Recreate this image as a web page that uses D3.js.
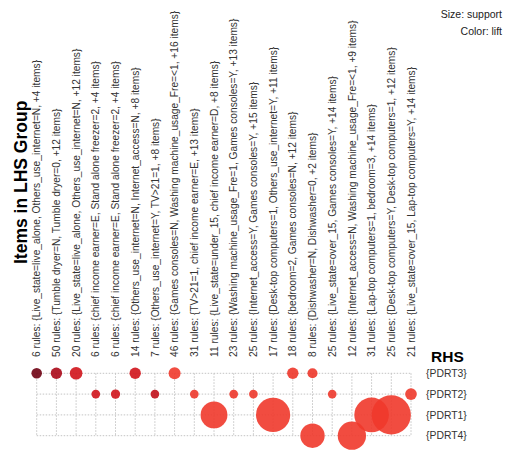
<!DOCTYPE html>
<html>
<head>
<meta charset="utf-8">
<script src="https://cdn.jsdelivr.net/npm/d3@7"></script>
<style>
  html, body { margin: 0; padding: 0; background: #ffffff; }
  svg { display: block; font-family: "Liberation Sans", Arial, sans-serif; }
</style>
</head>
<body>
<svg id="chart" width="523" height="450"></svg>
<script>
// LHS groups (columns), left to right
const lhsGroups = [
  "6 rules: {Live_state=live_alone, Others_use_internet=N, +4 items}",
  "50 rules: {Tumble dryer=N, Tumble dryer=0, +12 items}",
  "20 rules: {Live_state=live_alone, Others_use_internet=N, +12 items}",
  "6 rules: {chief income earner=E, Stand alone freezer=2, +4 items}",
  "6 rules: {chief income earner=E, Stand alone freezer=2, +4 items}",
  "14 rules: {Others_use_internet=N, Internet_access=N, +8 items}",
  "7 rules: {Others_use_internet=Y, TV>21=1, +8 items}",
  "46 rules: {Games consoles=N, Washing machine_usage_Fre=<1, +16 items}",
  "31 rules: {TV>21=1, chief income earner=E, +13 items}",
  "11 rules: {Live_state=under_15, chief income earner=D, +8 items}",
  "23 rules: {Washing machine_usage_Fre=1, Games consoles=Y, +13 items}",
  "25 rules: {Internet_access=Y, Games consoles=Y, +15 items}",
  "17 rules: {Desk-top computers=1, Others_use_internet=Y, +11 items}",
  "18 rules: {bedroom=2, Games consoles=N, +12 items}",
  "8 rules: {Dishwasher=N, Dishwasher=0, +2 items}",
  "25 rules: {Live_state=over_15, Games consoles=Y, +14 items}",
  "12 rules: {Internet_access=N, Washing machine_usage_Fre=<1, +9 items}",
  "31 rules: {Lap-top computers=1, bedroom=3, +14 items}",
  "25 rules: {Desk-top computers=Y, Desk-top computers=1, +12 items}",
  "21 rules: {Live_state=over_15, Lap-top computers=Y, +14 items}"
];

// RHS items (rows), top to bottom
const rhsItems = ["{PDRT3}", "{PDRT2}", "{PDRT1}", "{PDRT4}"];

// One entry per plotted group: LHS column index, RHS item, support, lift
const dotLhs     = [0, 1, 2, 5, 7, 13, 14,
                    3, 4, 6, 8, 10, 11, 15, 19,
                    9, 12, 17, 18,
                    14, 16];
const dotRhs     = ["{PDRT3}", "{PDRT3}", "{PDRT3}", "{PDRT3}", "{PDRT3}", "{PDRT3}", "{PDRT3}",
                    "{PDRT2}", "{PDRT2}", "{PDRT2}", "{PDRT2}", "{PDRT2}", "{PDRT2}", "{PDRT2}", "{PDRT2}",
                    "{PDRT1}", "{PDRT1}", "{PDRT1}", "{PDRT1}",
                    "{PDRT4}", "{PDRT4}"];
const dotSupport = [0.031, 0.036, 0.044, 0.036, 0.040, 0.036, 0.028,
                    0.021, 0.024, 0.021, 0.021, 0.021, 0.021, 0.021, 0.038,
                    0.200, 0.325, 0.333, 0.425,
                    0.165, 0.222];
const dotLift    = [3.00, 2.00, 1.50, 1.50, 1.00, 1.05, 1.05,
                    1.50, 1.50, 1.70, 1.04, 1.04, 1.04, 1.04, 1.03,
                    1.02, 1.02, 1.02, 1.02,
                    1.02, 1.02];

const dots = dotLhs.map((c, i) => ({
  lhs: c, rhs: dotRhs[i], support: dotSupport[i], lift: dotLift[i]
}));

const svg = d3.select("#chart");

const x = d3.scalePoint().domain(d3.range(lhsGroups.length)).range([36.7, 411]);
const y = d3.scalePoint().domain(rhsItems).range([373.3, 435.7]);
const r = d3.scaleSqrt().domain([0, 1]).range([0, 30]);
const color = d3.scaleLinear()
  .domain([1.0, 1.5, 2.0, 3.0])
  .range(["#f03a2c", "#d0141b", "#ab0918", "#6f0213"])
  .clamp(true);

// dotted grid
const grid = svg.append("g")
  .attr("stroke", "#c4c4c4")
  .attr("stroke-width", 1)
  .attr("stroke-dasharray", "1.5,1.5")
  .attr("fill", "none");

grid.selectAll("line.h").data(rhsItems).join("line")
  .attr("class", "h")
  .attr("x1", x(0)).attr("x2", x(lhsGroups.length - 1))
  .attr("y1", d => y(d)).attr("y2", d => y(d));

grid.selectAll("line.v").data(d3.range(lhsGroups.length)).join("line")
  .attr("class", "v")
  .attr("x1", d => x(d)).attr("x2", d => x(d))
  .attr("y1", y(rhsItems[0])).attr("y2", y(rhsItems[rhsItems.length - 1]));

// balloons: size = support, colour = lift
svg.append("g").selectAll("circle")
  .data(dots.slice().sort((a, b) => a.lhs - b.lhs))
  .join("circle")
  .attr("cx", d => x(d.lhs))
  .attr("cy", d => y(d.rhs))
  .attr("r", d => r(d.support))
  .attr("fill", d => color(d.lift))
  .attr("fill-opacity", 0.9);

// LHS group labels, rotated
svg.append("g").selectAll("text")
  .data(lhsGroups)
  .join("text")
  .attr("transform", (d, i) => `translate(${x(i)},357) rotate(-90)`)
  .attr("dy", "0.36em")
  .attr("font-size", "10.2px")
  .attr("fill", "#333")
  .attr("text-anchor", "start")
  .text(d => d);

// RHS labels
svg.append("g").selectAll("text")
  .data(rhsItems)
  .join("text")
  .attr("x", 426)
  .attr("y", d => y(d))
  .attr("dy", "0.36em")
  .attr("font-size", "10.4px")
  .attr("fill", "#333")
  .text(d => d);

// axis titles
svg.append("text")
  .attr("transform", "translate(26.5,264) rotate(-90)")
  .attr("font-size", "17.5px")
  .attr("font-weight", "bold")
  .attr("fill", "#000")
  .text("Items in LHS Group");

svg.append("text")
  .attr("x", 431)
  .attr("y", 362)
  .attr("font-size", "15.5px")
  .attr("font-weight", "bold")
  .attr("fill", "#000")
  .text("RHS");

// encoding note
const note = svg.append("g")
  .attr("font-size", "10.5px")
  .attr("fill", "#222")
  .attr("text-anchor", "end");
note.append("text").attr("x", 502).attr("y", 18).text("Size: support");
note.append("text").attr("x", 502).attr("y", 35).text("Color: lift");
</script>
</body>
</html>
